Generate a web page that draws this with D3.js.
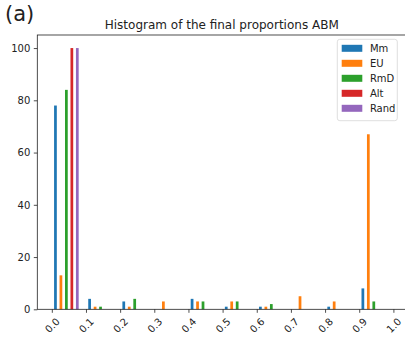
<!DOCTYPE html>
<html>
<head>
<meta charset="utf-8">
<script src="https://cdn.jsdelivr.net/npm/d3@7"></script>
<style>
  body { margin: 0; background: #fff; }
  svg { display: block; }
  text { font-family: "DejaVu Sans", sans-serif; fill: #222; }
</style>
</head>
<body>
<svg id="chart" width="405" height="341"></svg>
<script>
// Histogram bins (left edges, width 0.1) and axis ticks
const binStarts = [0.0, 0.1, 0.2, 0.3, 0.4, 0.5, 0.6, 0.7, 0.8, 0.9];
const binWidth = 0.1;
const xTickValues = [0.0, 0.1, 0.2, 0.3, 0.4, 0.5, 0.6, 0.7, 0.8, 0.9, 1.0];
const yTickValues = [0, 20, 40, 60, 80, 100];

// Series names, colours and counts per bin
const seriesNames = ["Mm", "EU", "RmD", "Alt", "Rand"];
const seriesColors = ["#1f77b4", "#ff7f0e", "#2ca02c", "#d62728", "#9467bd"];
const countsMm   = [78, 4, 3, 0, 4, 1, 1, 0, 1, 8];
const countsEU   = [13, 1, 1, 3, 3, 3, 1, 5, 3, 67];
const countsRmD  = [84, 1, 4, 0, 3, 3, 2, 0, 0, 3];
const countsAlt  = [100, 0, 0, 0, 0, 0, 0, 0, 0, 0];
const countsRand = [100, 0, 0, 0, 0, 0, 0, 0, 0, 0];
const seriesCounts = [countsMm, countsEU, countsRmD, countsAlt, countsRand];

const titleText = "Histogram of the final proportions ABM";
const panelLabel = "(a)";

const svg = d3.select("#chart");
const plot = { left: 37.3, right: 406.2, top: 35, bottom: 309.3 };

const x = d3.scaleLinear().domain([-0.0425, 1.0375]).range([plot.left, plot.right]);
const y = d3.scaleLinear().domain([0, 105]).range([plot.bottom, plot.top]);

// Series positions inside one bin (80% of the bin is used by the group)
const binPx = x(binWidth) - x(0);
const inner = d3.scaleBand().domain(seriesNames).range([0.9, 0.9 + 0.8 * binPx]);
const barW = inner.bandwidth() * 0.5;

const rows = [];
seriesNames.forEach((name, si) => {
  binStarts.forEach((b, bi) => {
    rows.push({ name, color: seriesColors[si], bin: b, value: seriesCounts[si][bi] });
  });
});

svg.append("g")
  .selectAll("rect")
  .data(rows.filter(d => d.value > 0))
  .join("rect")
  .attr("x", d => x(d.bin) + inner(d.name) + inner.bandwidth() / 2 - barW / 2)
  .attr("width", barW)
  .attr("y", d => y(d.value))
  .attr("height", d => y(0) - y(d.value))
  .attr("fill", d => d.color);

// Y axis
const yAxis = svg.append("g")
  .attr("transform", `translate(${plot.left},0)`)
  .call(d3.axisLeft(y).tickValues(yTickValues).tickSize(3.5).tickPadding(3.5));
yAxis.select(".domain").remove();
yAxis.selectAll("line").attr("stroke", "#222").attr("stroke-width", 0.8);
yAxis.selectAll("text").style("font-size", "10px").attr("fill", "#222");

// X axis with rotated labels
const xAxis = svg.append("g")
  .attr("transform", `translate(0,${plot.bottom})`)
  .call(d3.axisBottom(x).tickValues(xTickValues).tickFormat(d3.format(".1f")).tickSize(3.5).tickPadding(3.5));
xAxis.select(".domain").remove();
xAxis.selectAll("line").attr("stroke", "#222").attr("stroke-width", 0.8);
xAxis.selectAll("text")
  .style("font-size", "10px")
  .attr("fill", "#222")
  .attr("dy", null)
  .attr("y", 0)
  .attr("text-anchor", "middle")
  .attr("dominant-baseline", "central")
  .each(function () {
    const w = this.getComputedTextLength();
    const h = 10;
    const half = (w + h) * Math.SQRT1_2 / 2;
    d3.select(this).attr("transform", `translate(0,${3.5 + 3.5 + half}) rotate(-45)`);
  });

// Spines
svg.append("rect")
  .attr("x", plot.left).attr("y", plot.top)
  .attr("width", plot.right - plot.left).attr("height", plot.bottom - plot.top)
  .attr("fill", "none").attr("stroke", "#222").attr("stroke-width", 0.8);

// Title and panel label
svg.append("text")
  .attr("x", (plot.left + plot.right) / 2).attr("y", 28.5)
  .attr("text-anchor", "middle")
  .style("font-size", "12px")
  .text(titleText);

svg.append("text")
  .attr("x", 5).attr("y", 20.5)
  .style("font-size", "21px")
  .text(panelLabel);

// Legend
const legend = svg.append("g").attr("transform", "translate(337.3,39.3)");
legend.append("rect")
  .attr("width", 60).attr("height", 81.4).attr("rx", 2.5)
  .attr("fill", "#fff").attr("fill-opacity", 0.8)
  .attr("stroke", "#d5d5d5").attr("stroke-width", 0.8);
const legendRow = d3.scalePoint().domain(seriesNames).range([9, 69]);
const items = legend.selectAll("g.item")
  .data(seriesNames.map((n, i) => ({ name: n, color: seriesColors[i] })))
  .join("g")
  .attr("class", "item")
  .attr("transform", d => `translate(0,${legendRow(d.name)})`);
items.append("rect")
  .attr("x", 4.4).attr("y", -3.5).attr("width", 20.6).attr("height", 7)
  .attr("fill", d => d.color);
items.append("text")
  .attr("x", 32.6).attr("y", 0)
  .attr("dominant-baseline", "central")
  .style("font-size", "10px")
  .text(d => d.name);
</script>
</body>
</html>
